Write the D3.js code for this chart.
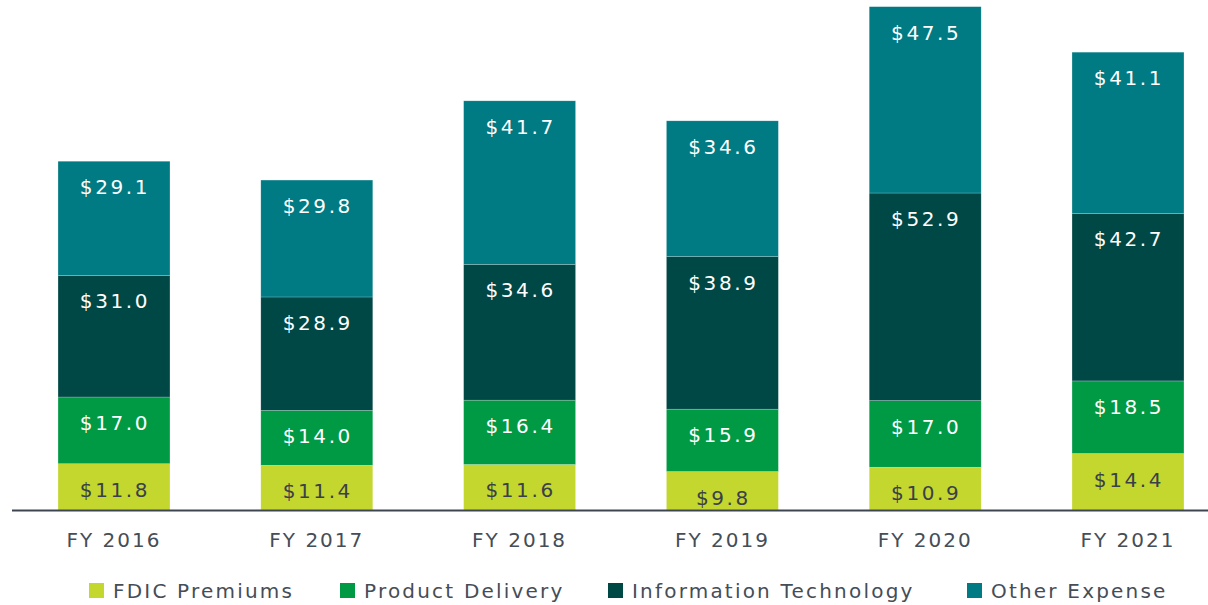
<!DOCTYPE html>
<html>
<head>
<meta charset="utf-8">
<script src="https://cdn.jsdelivr.net/npm/d3@7/dist/d3.min.js"></script>
<style>
  html, body { margin: 0; padding: 0; background: #fff; }
  svg { display: block; }
  text { font-family: "DejaVu Sans", Verdana, sans-serif; }
</style>
</head>
<body>
<svg id="chart" width="1208" height="605"></svg>
<script>
// Operating expenses by fiscal year (in millions)
const years = ["FY 2016", "FY 2017", "FY 2018", "FY 2019", "FY 2020", "FY 2021"];
const seriesNames = ["FDIC Premiums", "Product Delivery", "Information Technology", "Other Expense"];
const fdicPremiums = [11.8, 11.4, 11.6, 9.8, 10.9, 14.4];
const productDelivery = [17.0, 14.0, 16.4, 15.9, 17.0, 18.5];
const informationTechnology = [31.0, 28.9, 34.6, 38.9, 52.9, 42.7];
const otherExpense = [29.1, 29.8, 41.7, 34.6, 47.5, 41.1];
const colors = ["#c4d72f", "#009a44", "#004845", "#007a83"];
const labelColors = ["#3a4049", "#ffffff", "#ffffff", "#ffffff"];

const seriesValues = [fdicPremiums, productDelivery, informationTechnology, otherExpense];
const rows = years.map((y, i) => {
  const r = { year: y };
  seriesNames.forEach((s, k) => { r[s] = seriesValues[k][i]; });
  return r;
});

const svg = d3.select("#chart");
const baseY = 510;

const x = d3.scaleBand()
  .domain(years)
  .range([12.6, 1229.4])
  .paddingInner(0.448)
  .paddingOuter(0.224);

const y = d3.scaleLinear()
  .domain([0, 130])
  .range([baseY, 0]);

const stacked = d3.stack().keys(seriesNames)(rows);

const layers = svg.append("g").selectAll("g")
  .data(stacked)
  .join("g")
  .attr("fill", (d, i) => colors[i]);

layers.selectAll("rect")
  .data(d => d)
  .join("rect")
  .attr("x", d => x(d.data.year))
  .attr("y", d => y(d[1]))
  .attr("width", x.bandwidth())
  .attr("height", d => y(d[0]) - y(d[1]))
  .attr("stroke", "rgba(255,255,255,0.35)")
  .attr("stroke-width", 0.6);

// Value labels near the top of each segment
layers.selectAll("text")
  .data((d, i) => d.map(p => ({ p, i })))
  .join("text")
  .attr("x", d => x(d.p.data.year) + x.bandwidth() / 2 + 1)
  .attr("y", d => y(d.p[1]) + 33)
  .attr("text-anchor", "middle")
  .attr("font-size", 20)
  .attr("letter-spacing", 2.6)
  .attr("fill", d => labelColors[d.i])
  .text(d => "$" + (d.p[1] - d.p[0]).toFixed(1));

// Baseline axis
const xAxis = d3.axisBottom(x).tickSize(0).tickPadding(23);
const axisG = svg.append("g")
  .attr("transform", `translate(0,${baseY})`)
  .call(xAxis);
axisG.select(".domain").remove();
axisG.selectAll("text")
  .attr("font-size", 20)
  .attr("letter-spacing", 2)
  .attr("fill", "#454d57")
  .attr("font-family", "DejaVu Sans, sans-serif");
svg.append("line")
  .attr("x1", 12).attr("x2", 1208)
  .attr("y1", baseY + 0.5).attr("y2", baseY + 0.5)
  .attr("stroke", "#3d4650")
  .attr("stroke-width", 2);

// Legend
const legendX = [89, 340, 608, 967];
const legend = svg.append("g").selectAll("g")
  .data(seriesNames)
  .join("g")
  .attr("transform", (d, i) => `translate(${legendX[i]},583)`);
legend.append("rect")
  .attr("width", 15).attr("height", 15)
  .attr("fill", (d, i) => colors[i]);
legend.append("text")
  .attr("x", 24)
  .attr("y", 15)
  .attr("font-size", 20)
  .attr("letter-spacing", 2.2)
  .attr("fill", "#454d57")
  .text(d => d);
</script>
</body>
</html>
